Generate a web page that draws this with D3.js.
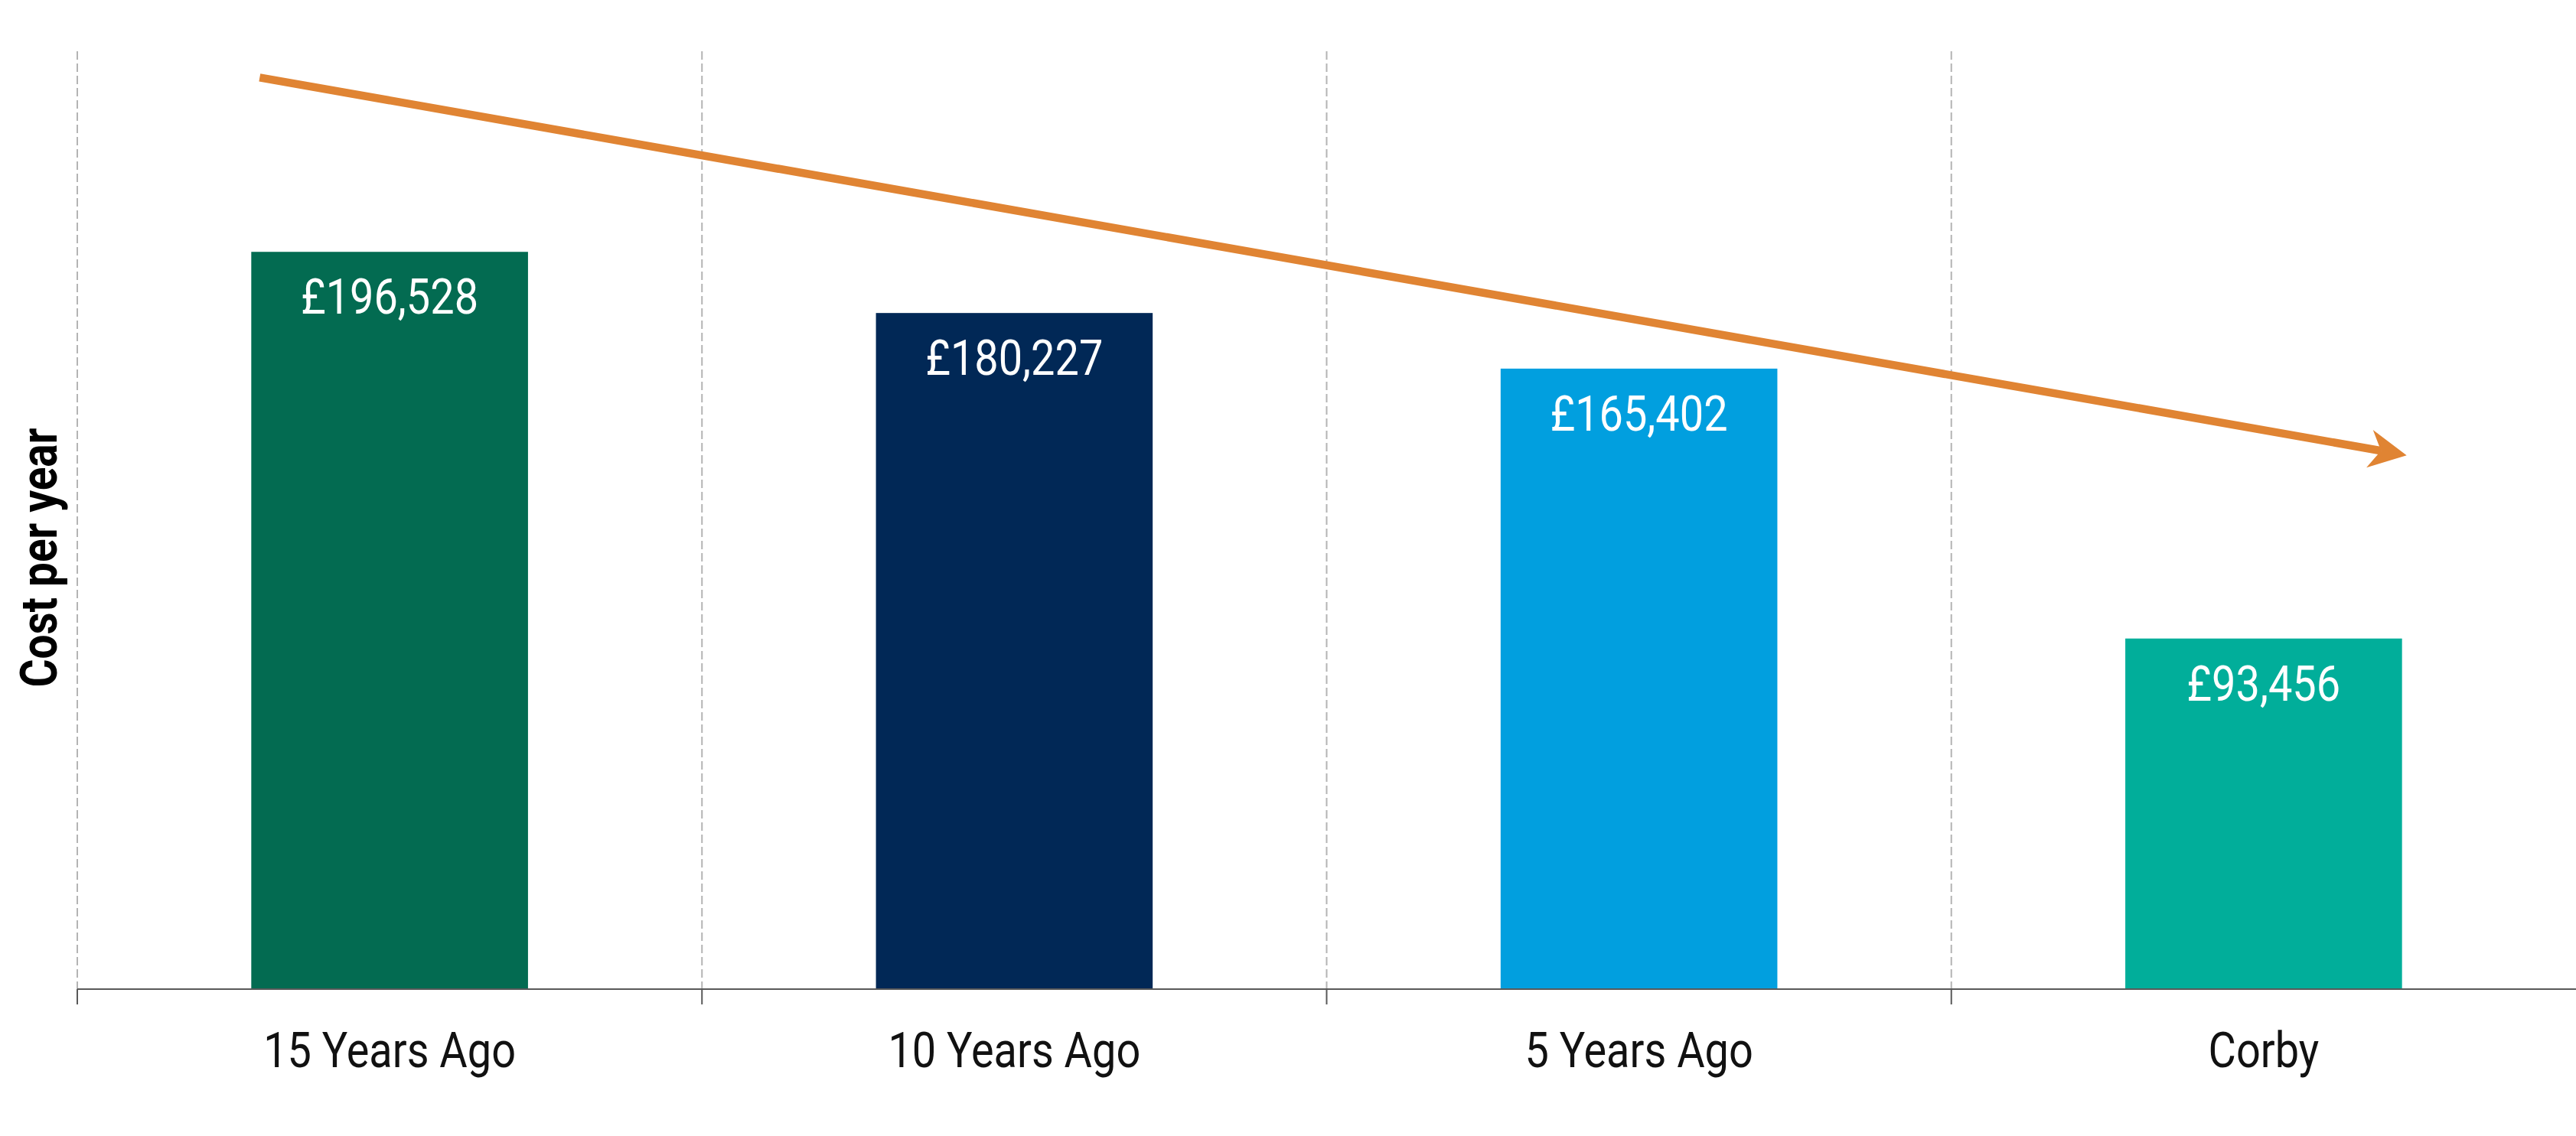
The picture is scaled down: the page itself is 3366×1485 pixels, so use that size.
<!DOCTYPE html>
<html>
<head>
<meta charset="utf-8">
<script src="https://cdn.jsdelivr.net/npm/d3@7"></script>
<style>
  body { margin: 0; background: #fff; }
  text { font-family: Roboto, "Noto Sans", sans-serif; }
</style>
</head>
<body>
<div id="chart"></div>
<script>
// cost per year
var categories = ["15 Years Ago", "10 Years Ago", "5 Years Ago", "Corby"];
var costs = [196528, 180227, 165402, 93456];
var barColors = ["#036b51", "#012856", "#019fdf", "#01ae9a"];
var yTicks = [0, 250000];

// trend arrow, in category / value terms
var arrowFrom = { cat: "15 Years Ago", value: 243000 };
var arrowTo = { cat: "Corby", value: 142300 };

var graphWidth = 3366;
var graphHeight = 1485;
var margin = {top: 67, right: 0, bottom: 192, left: 101};
var plotW = graphWidth - margin.left - margin.right,
    plotH = graphHeight - margin.top - margin.bottom;

var squeeze = 0.86; // stand-in for a condensed face

var x = d3.scaleBand()
    .domain(categories)
    .range([0, plotW])
    .paddingInner(0.557)
    .paddingOuter(0.2785);

var y = d3.scaleLinear()
    .domain(d3.extent(yTicks))
    .range([plotH, 0]);

var svg = d3.select("#chart")
    .append("svg")
    .attr("width", graphWidth)
    .attr("height", graphHeight);

var plot = svg.append("g")
    .attr("transform", "translate(" + margin.left + "," + margin.top + ")");

// dashed separators between categories
var bounds = categories.map(function(c) { return x(c) - x.step() * x.paddingOuter(); });

plot.selectAll(".sep")
  .data(bounds)
  .enter().append("line")
    .attr("class", "sep")
    .attr("x1", function(d) { return d; })
    .attr("x2", function(d) { return d; })
    .attr("y1", y(yTicks[1]))
    .attr("y2", y(0))
    .attr("stroke", "#b4b4b4")
    .attr("stroke-width", 2)
    .attr("stroke-dasharray", "11,5");

// bars
plot.selectAll(".bar")
  .data(costs)
  .enter().append("rect")
    .attr("class", "bar")
    .attr("x", function(d, i) { return x(categories[i]); })
    .attr("width", x.bandwidth())
    .attr("y", function(d) { return y(d); })
    .attr("height", function(d) { return y(0) - y(d); })
    .attr("fill", function(d, i) { return barColors[i]; });

var fmt = d3.format(",");
plot.selectAll(".val")
  .data(costs)
  .enter().append("text")
    .attr("class", "val")
    .attr("transform", function(d, i) {
      return "translate(" + (x(categories[i]) + x.bandwidth() / 2) + "," + (y(d) + 81) + ") scale(" + squeeze + ",1)";
    })
    .attr("text-anchor", "middle")
    .attr("fill", "#fff")
    .style("font-size", "65px")
    .text(function(d) { return "£" + fmt(d); });

// x axis
var xAxis = plot.append("g")
    .attr("transform", "translate(0," + y(0) + ")")
    .call(d3.axisBottom(x).tickSize(0).tickPadding(0));
xAxis.select(".domain").remove();
xAxis.selectAll("text")
    .attr("y", 102)
    .attr("dy", 0)
    .attr("fill", "#111")
    .attr("transform", "scale(" + squeeze + ",1)")
    .style("font-size", "65px");

xAxis.append("line")
    .attr("x1", 0).attr("x2", plotW)
    .attr("y1", 0).attr("y2", 0)
    .attr("stroke", "#595959")
    .attr("stroke-width", 2);
xAxis.selectAll(".bound")
  .data(bounds)
  .enter().append("line")
    .attr("class", "bound")
    .attr("x1", function(d) { return d; })
    .attr("x2", function(d) { return d; })
    .attr("y1", 0).attr("y2", 20)
    .attr("stroke", "#595959")
    .attr("stroke-width", 2);

// y label
svg.append("text")
    .attr("transform", "translate(74," + (margin.top + plotH * 0.54) + ") rotate(-90) scale(" + squeeze + ",1)")
    .attr("text-anchor", "middle")
    .attr("fill", "#000")
    .style("font-size", "66px")
    .style("font-weight", "bold")
    .text("Cost per year");

// trend arrow
var ax0 = x(arrowFrom.cat) + 11, ay0 = y(arrowFrom.value);
var ax1 = x(arrowTo.cat) + x.bandwidth() + 6, ay1 = y(arrowTo.value);
var ang = Math.atan2(ay1 - ay0, ax1 - ax0);
var arrowColor = "#e08433";

plot.append("line")
    .attr("x1", ax0).attr("y1", ay0)
    .attr("x2", ax1 - 34 * Math.cos(ang))
    .attr("y2", ay1 - 34 * Math.sin(ang))
    .attr("stroke", arrowColor)
    .attr("stroke-width", 10.5);

plot.append("path")
    .attr("d", "M-49,-25L0,0L-49,25L-34,0Z")
    .attr("transform", "translate(" + ax1 + "," + ay1 + ") rotate(" + (ang * 180 / Math.PI) + ")")
    .attr("fill", arrowColor);
</script>
</body>
</html>
